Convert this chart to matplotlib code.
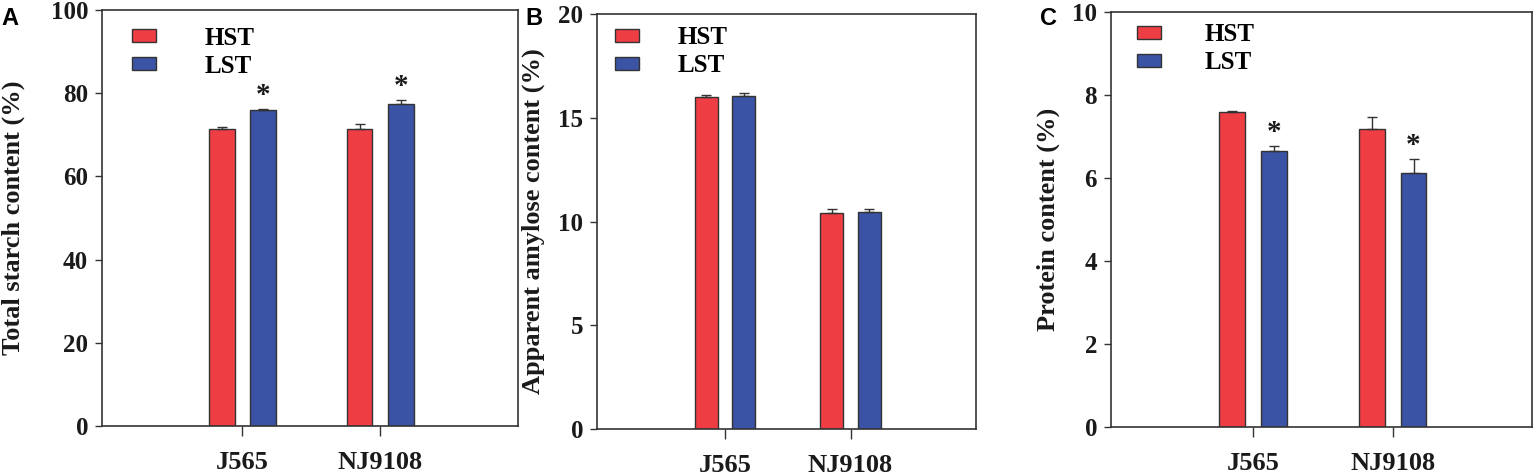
import matplotlib

matplotlib.use("Agg")
import matplotlib.pyplot as plt
from matplotlib.patches import Patch
import numpy as np

# --- data ----------------------------------------------------------------
cultivars = ["J565", "NJ9108"]
treatments = ["HST", "LST"]

starch_hst = [71.4, 71.3]
starch_hst_err = [0.4, 1.2]
starch_lst = [76.0, 77.4]
starch_lst_err = [0.3, 1.0]
starch_lst_sig = [True, True]

amylose_hst = [15.98, 10.43]
amylose_hst_err = [0.10, 0.19]
amylose_lst = [16.03, 10.47]
amylose_lst_err = [0.17, 0.12]
amylose_lst_sig = [False, False]

protein_hst = [7.58, 7.18]
protein_hst_err = [0.04, 0.30]
protein_lst = [6.66, 6.11]
protein_lst_err = [0.12, 0.35]
protein_lst_sig = [True, True]

# --- style -----------------------------------------------------------------
RED = "#ee3e44"
BLUE = "#3a53a4"
EDGE = "#333333"
TEXT = "#1a1a1a"
SERIF = "Liberation Serif"

plt.rcParams["font.family"] = SERIF
plt.rcParams["font.weight"] = "bold"

BAR_W = 0.185
OFFSET = 0.15

# axes rectangles in figure fractions: (left, bottom, width, height)
PANELS = [
    dict(rect=(0.0664, 0.1050, 0.2708, 0.8740), letter="A",
         ylabel="Total starch content (%)", ylim=(0, 100), step=20,
         hst=starch_hst, hst_err=starch_hst_err,
         lst=starch_lst, lst_err=starch_lst_err, sig=starch_lst_sig,
         ylab_x=-0.214, leg=(0.072, 0.960), textpad=1.95,
         letter_xy=(0.001, 0.985)),
    dict(rect=(0.3887, 0.0987, 0.2467, 0.8718), letter="B",
         ylabel="Apparent amylose content (%)", ylim=(0, 20), step=5,
         hst=amylose_hst, hst_err=amylose_hst_err,
         lst=amylose_lst, lst_err=amylose_lst_err, sig=amylose_lst_sig,
         ylab_x=-0.169, leg=(0.047, 0.970), textpad=1.55,
         letter_xy=(0.342, 0.985)),
    dict(rect=(0.7233, 0.1029, 0.2741, 0.8718), letter="C",
         ylabel="Protein content (%)", ylim=(0, 10), step=2,
         hst=protein_hst, hst_err=protein_hst_err,
         lst=protein_lst, lst_err=protein_lst_err, sig=protein_lst_sig,
         ylab_x=-0.150, leg=(0.062, 0.973), textpad=1.75,
         letter_xy=(0.677, 0.985)),
]

fig = plt.figure(figsize=(15.36, 4.76), dpi=100)

for p in PANELS:
    ax = fig.add_axes(p["rect"])
    x = np.arange(1, len(cultivars) + 1)

    for xs, vals, errs, color in (
        (x - OFFSET, p["hst"], p["hst_err"], RED),
        (x + OFFSET, p["lst"], p["lst_err"], BLUE),
    ):
        ax.bar(xs, vals, width=BAR_W, color=color, edgecolor=EDGE,
               linewidth=1.0, zorder=2)
        # upper error bar only
        ax.errorbar(xs, vals, yerr=[np.zeros(len(vals)), errs], fmt="none",
                    ecolor=EDGE, elinewidth=1.0, capsize=3.5, capthick=1.0,
                    zorder=3)

    for xi, v, e, s in zip(x + OFFSET, p["lst"], p["lst_err"], p["sig"]):
        if s:
            ax.annotate("*", (xi, v + e), xytext=(0, 0),
                        textcoords="offset points", ha="center", va="bottom",
                        fontsize=21, fontweight="bold", color=TEXT)

    ax.set_xlim(-0.02, 3.0)
    ax.set_ylim(*p["ylim"])
    ax.set_yticks(np.arange(p["ylim"][0], p["ylim"][1] + 0.01, p["step"]))
    ax.set_xticks(x)
    ax.set_xticklabels(cultivars)

    for spine in ax.spines.values():
        spine.set_color(EDGE)
        spine.set_linewidth(1.2)
    ax.tick_params(axis="y", direction="out", length=5, width=1.0,
                   colors=EDGE, labelcolor=TEXT, labelsize=18, pad=5)
    ax.tick_params(axis="x", direction="out", length=7, width=1.0,
                   colors=EDGE, labelcolor=TEXT, labelsize=19, pad=11)
    for lbl in ax.get_xticklabels() + ax.get_yticklabels():
        lbl.set_fontweight("bold")

    ax.set_ylabel(p["ylabel"], fontsize=19, fontweight="bold",
                  color=TEXT, va="center")
    ax.yaxis.set_label_coords(p["ylab_x"], 0.5)

    handles = [Patch(facecolor=RED, edgecolor=EDGE, linewidth=1.0),
               Patch(facecolor=BLUE, edgecolor=EDGE, linewidth=1.0)]
    ax.legend(handles, treatments, loc="upper left",
              bbox_to_anchor=p["leg"], frameon=False, borderpad=0,
              borderaxespad=0, handlelength=0.95, handleheight=0.42,
              handletextpad=p["textpad"], labelspacing=0.2,
              prop=dict(family=SERIF, weight="bold", size=18))

    fig.text(*p["letter_xy"], p["letter"], family="Liberation Sans",
             weight="bold", fontsize=17, ha="left", va="top", color="black")

fig.savefig("out.png", dpi=100)
plt.close(fig)
